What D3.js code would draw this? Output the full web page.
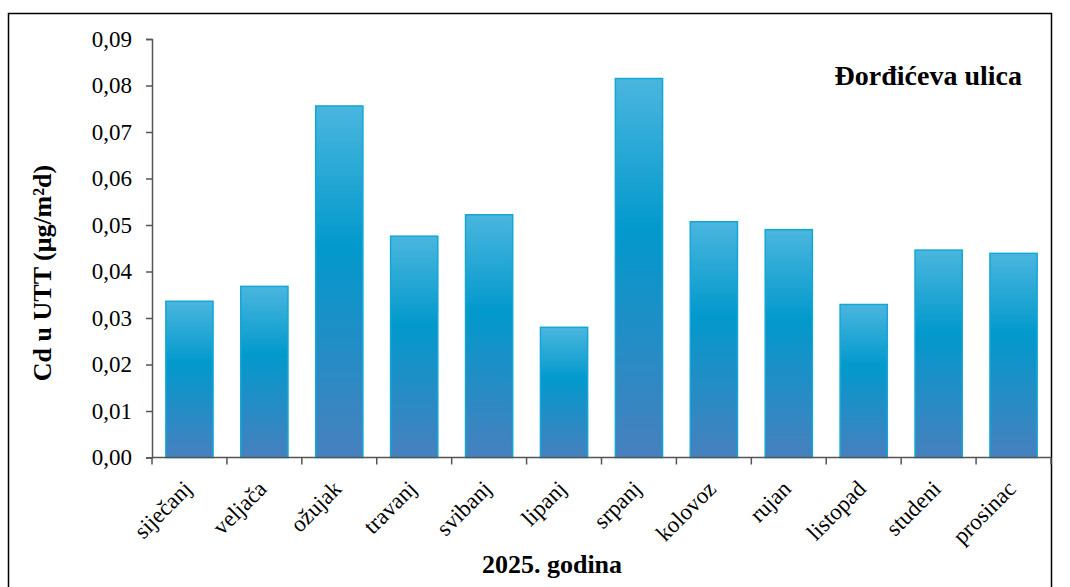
<!DOCTYPE html>
<html><head><meta charset="utf-8">
<script src="https://cdn.jsdelivr.net/npm/d3@7"></script>
<style>body{margin:0;background:#fff}svg{display:block}</style>
</head><body>
<svg id="c" width="1070" height="587"></svg>
<script>
const months = ["siječanj","veljača","ožujak","travanj","svibanj","lipanj","srpanj","kolovoz","rujan","listopad","studeni","prosinac"];
const values = [0.0336,0.0368,0.0756,0.0476,0.0522,0.0280,0.0815,0.0507,0.0490,0.0329,0.0446,0.0439];
const yTicks = [0,0.01,0.02,0.03,0.04,0.05,0.06,0.07,0.08,0.09];
const title = "Đorđićeva ulica";
const yTitle = "Cd u UTT (μg/m²d)";
const xTitle = "2025. godina";

const svg = d3.select("#c");
const M = {left:152, right:1051, top:39, bottom:457.5};
const serif = "'Liberation Serif','Times New Roman',serif";

// outer frame
svg.append("rect").attr("x",8.5).attr("y",13.5).attr("width",1043).attr("height",600)
  .attr("fill","none").attr("stroke","#000").attr("stroke-width",1.5);

const defs = svg.append("defs");
const g = defs.append("linearGradient").attr("id","bg").attr("x1",0).attr("y1",0).attr("x2",0).attr("y2",1);
g.append("stop").attr("offset","0%").attr("stop-color","#4ab6de");
g.append("stop").attr("offset","40%").attr("stop-color","#0299cc");
g.append("stop").attr("offset","100%").attr("stop-color","#4780be");

const x = d3.scaleBand().domain(months).range([M.left,M.right]).paddingInner(0.37).paddingOuter(0.185);
const y = d3.scaleLinear().domain([0,0.09]).range([M.bottom,M.top]);

// bars
svg.append("g").selectAll("rect").data(values).join("rect")
  .attr("x",(d,i)=>x(months[i])).attr("y",d=>y(d))
  .attr("width",x.bandwidth()).attr("height",d=>M.bottom-y(d))
  .attr("fill","url(#bg)").attr("stroke","#14a6d6").attr("stroke-width",1.5);

// y axis
const ya = svg.append("g").attr("transform",`translate(${M.left},0)`)
  .call(d3.axisLeft(y).tickValues(yTicks).tickSize(6).tickPadding(14)
    .tickFormat(d=>d3.format(".2f")(d).replace(".",",")));
ya.selectAll("text").attr("font-family",serif).attr("font-size",23).attr("fill","#000");
ya.selectAll("line,path").attr("stroke","#555").attr("stroke-width",1.5);

// x axis
const xTickPos = months.map(m=>x(m)-x.step()*x.paddingInner()/2).concat([M.right]);
const xa = svg.append("g").attr("transform",`translate(0,${M.bottom})`);
xa.append("line").attr("x1",M.left).attr("x2",M.right).attr("y1",0).attr("y2",0).attr("stroke","#555").attr("stroke-width",1.5);
xa.selectAll("line.t").data(xTickPos).join("line").attr("class","t")
  .attr("x1",d=>d).attr("x2",d=>d).attr("y1",0).attr("y2",7).attr("stroke","#555").attr("stroke-width",1.5);
xa.selectAll("text").data(months).join("text")
  .attr("transform",d=>`translate(${x(d)+x.bandwidth()/2-2},${27}) rotate(-45)`)
  .attr("text-anchor","end").attr("dy","0.35em")
  .attr("font-family",serif).attr("font-size",23).attr("fill","#000").text(d=>d);

// titles
svg.append("text").attr("x",1022).attr("y",85).attr("text-anchor","end")
  .attr("font-family",serif).attr("font-size",28).attr("font-weight","bold").text(title);
svg.append("text").attr("transform",`translate(51,273) rotate(-90)`)
  .attr("text-anchor","middle").attr("font-family",serif).attr("font-size",26).attr("font-weight","bold").text(yTitle);
svg.append("text").attr("x",552).attr("y",573).attr("text-anchor","middle")
  .attr("font-family",serif).attr("font-size",26).attr("font-weight","bold").text(xTitle);
</script>
</body></html>
